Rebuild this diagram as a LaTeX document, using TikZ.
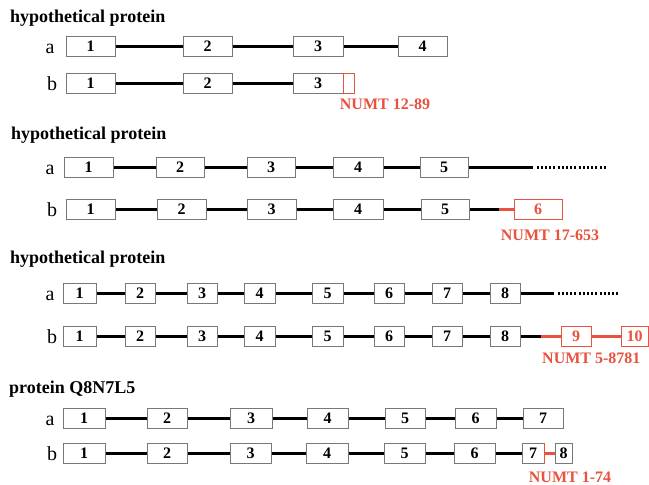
\documentclass[tikz,border=0pt]{standalone}
\usepackage{fontspec}
\setmainfont{Liberation Serif}
\definecolor{numt}{RGB}{232,82,62}
\definecolor{edge}{RGB}{120,120,120}
\begin{document}
\begin{tikzpicture}[x=1pt,y=-1pt,
  exon/.style={draw=edge, line width=1pt, fill=white, inner sep=0pt,
    minimum height=20pt, font=\fontsize{16}{16}\bfseries\selectfont},
  numtexon/.style={exon, draw=numt, text=numt},
  intron/.style={line width=2.7pt, black},
  numtline/.style={line width=2.5pt, numt},
  dots/.style={line width=2.4pt, dash pattern=on 2pt off 2.2pt},
  title/.style={anchor=base west, inner sep=0pt,
    font=\fontsize{18}{20}\bfseries\selectfont},
  rowlabel/.style={anchor=base, inner sep=0pt, font=\fontsize{20}{20}\selectfont},
  numtlabel/.style={inner sep=0pt, text=numt, font=\fontsize{16}{16}\bfseries\selectfont}]

\fill[white] (0,0) rectangle (649,485);
\useasboundingbox (0,0) rectangle (649,485);

% ---------------- gene 1 ----------------
\node[title] (t1) at (10,22) {hypothetical protein};
\node[rowlabel] (l1a) at (50,53.5) {a};
\node[rowlabel] (l1b) at (52,90.5) {b};
\foreach \l/\r/\t [count=\i] in {66/115/1,183/232/2,293/343/3,398/447/4}
  \node[exon, minimum width={(\r-\l)*1pt}] (s1a\i) at ({(\l+\r)/2},46.5) {\t};
\foreach \i/\j in {1/2,2/3,3/4}
  \draw[intron] (s1a\i.east) -- (s1a\j.west);
\foreach \l/\r/\t [count=\i] in {66/115/1,183/232/2,293/343/3}
  \node[exon, minimum width={(\r-\l)*1pt}] (s1b\i) at ({(\l+\r)/2},83.5) {\t};
\foreach \i/\j in {1/2,2/3}
  \draw[intron] (s1b\i.east) -- (s1b\j.west);
\node[numtexon, fill=none, minimum width=11pt] (s1bn) at (348.5,83.5) {};
\node[numtlabel] (n1) at (385,104) {NUMT 12-89};

% ---------------- gene 2 ----------------
\node[title] (t2) at (11,139) {hypothetical protein};
\node[rowlabel] (l2a) at (50,174.5) {a};
\node[rowlabel] (l2b) at (52,216.5) {b};
\foreach \l/\r/\t [count=\i] in {64/113/1,156/204/2,247/295/3,333/383/4,420/468/5}
  \node[exon, minimum width={(\r-\l)*1pt}] (s2a\i) at ({(\l+\r)/2},167.5) {\t};
\foreach \i/\j in {1/2,2/3,3/4,4/5}
  \draw[intron] (s2a\i.east) -- (s2a\j.west);
\coordinate (s2aend) at (533,167.5);
\coordinate (s2ad0) at (536.5,167.5);
\coordinate (s2ad1) at (606,167.5);
\draw[intron] (s2a5.east) -- (s2aend);
\draw[dots] (s2ad0) -- (s2ad1);
\foreach \l/\r/\t [count=\i] in {66/115/1,157/206/2,247/296/3,333/383/4,421/469/5}
  \node[exon, minimum width={(\r-\l)*1pt}] (s2b\i) at ({(\l+\r)/2},209.5) {\t};
\foreach \i/\j in {1/2,2/3,3/4,4/5}
  \draw[intron] (s2b\i.east) -- (s2b\j.west);
\node[numtexon, minimum width=48pt] (s2b6) at (538,209.5) {6};
\coordinate (s2bj) at (499,209.5);
\draw[intron] (s2b5.east) -- (s2bj);
\draw[numtline] (s2bj) -- (s2b6.west);
\node[numtlabel] (n2) at (550,235) {NUMT 17-653};

% ---------------- gene 3 ----------------
\node[title] (t3) at (10,263) {hypothetical protein};
\node[rowlabel] (l3a) at (50,300.5) {a};
\node[rowlabel] (l3b) at (52,343.5) {b};
\foreach \l/\r/\t [count=\i] in {63/96/1,125/155/2,187/217/3,244/275/4,312/343/5,374/404/6,432/462/7,490/520/8}
  \node[exon, minimum width={(\r-\l)*1pt}] (s3a\i) at ({(\l+\r)/2},293.5) {\t};
\foreach \i/\j in {1/2,2/3,3/4,4/5,5/6,6/7,7/8}
  \draw[intron] (s3a\i.east) -- (s3a\j.west);
\coordinate (s3aend) at (554,293.5);
\coordinate (s3ad0) at (557.5,293.5);
\coordinate (s3ad1) at (620,293.5);
\draw[intron] (s3a8.east) -- (s3aend);
\draw[dots] (s3ad0) -- (s3ad1);
\foreach \l/\r/\t [count=\i] in {63/96/1,125/155/2,187/217/3,244/275/4,312/343/5,374/404/6,432/462/7,490/520/8}
  \node[exon, minimum width={(\r-\l)*1pt}] (s3b\i) at ({(\l+\r)/2},336.5) {\t};
\foreach \i/\j in {1/2,2/3,3/4,4/5,5/6,6/7,7/8}
  \draw[intron] (s3b\i.east) -- (s3b\j.west);
\node[numtexon, minimum width=30pt] (s3b9) at (576,336.5) {9};
\node[numtexon, minimum width=27pt] (s3b10) at (634.5,336.5) {10};
\coordinate (s3bj) at (541,336.5);
\draw[intron] (s3b8.east) -- (s3bj);
\draw[numtline] (s3bj) -- (s3b9.west);
\draw[numtline] (s3b9.east) -- (s3b10.west);
\node[numtlabel, anchor=west] (n3) at (542,358) {NUMT 5-8781};

% ---------------- gene 4 ----------------
\node[title] (t4) at (9,393) {protein Q8N7L5};
\node[rowlabel] (l4a) at (50,425.5) {a};
\node[rowlabel] (l4b) at (52,460.5) {b};
\foreach \l/\r/\t [count=\i] in {63/105/1,147/187/2,230/272/3,307/348/4,385/425/5,455/496/6,523/563/7}
  \node[exon, minimum width={(\r-\l)*1pt}] (s4a\i) at ({(\l+\r)/2},418.5) {\t};
\foreach \i/\j in {1/2,2/3,3/4,4/5,5/6,6/7}
  \draw[intron] (s4a\i.east) -- (s4a\j.west);
\foreach \l/\r/\t [count=\i] in {63/105/1,147/187/2,230/271/3,306/348/4,384/425/5,454/495/6,522/544/7,555/572/8}
  \node[exon, minimum width={(\r-\l)*1pt}] (s4b\i) at ({(\l+\r)/2},453.5) {\t};
\foreach \i/\j in {1/2,2/3,3/4,4/5,5/6,6/7}
  \draw[intron] (s4b\i.east) -- (s4b\j.west);
\draw[numt, line width=1pt] (s4b7.north east) -- (s4b7.south east);
\draw[numtline] (s4b7.east) -- (s4b8.west);
\node[numtlabel] (n4) at (570,477) {NUMT 1-74};
\end{tikzpicture}
\end{document}
